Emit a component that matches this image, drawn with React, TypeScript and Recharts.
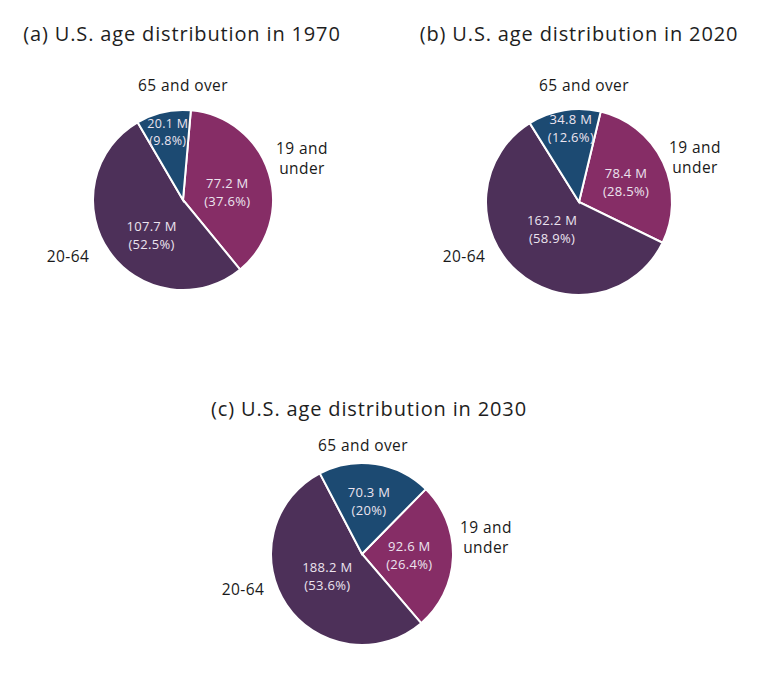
import React from 'react';
import { PieChart, Pie, Cell } from 'recharts';

const categories = ['19 and under', '20-64', '65 and over'];
const outerNames = [['19 and', 'under'], ['20-64'], ['65 and over']];
const colors = ['#862d66', '#4d3059', '#1c4a72'];

const values1970 = [77.2, 107.7, 20.1];
const pct1970 = ['37.6', '52.5', '9.8'];
const values2020 = [78.4, 162.2, 34.8];
const pct2020 = ['28.5', '58.9', '12.6'];
const values2030 = [92.6, 188.2, 70.3];
const pct2030 = ['26.4', '53.6', '20'];

const titles = [
  '(a) U.S. age distribution in 1970',
  '(b) U.S. age distribution in 2020',
  '(c) U.S. age distribution in 2030',
];

const build = (vals: number[], pcts: string[]) =>
  categories.map((c, i) => ({ name: c, value: vals[i], pct: pcts[i] }));

const FONT = '"Open Sans", "Noto Sans", sans-serif';
const RAD = Math.PI / 180;

type Layout = {
  cx: number;
  cy: number;
  r: number;
  offset: number;
  titleX: number;
  titleY: number;
  inner: { ratio: number; d: number; gap: number; fs: number }[];
  outer: { dx: number; dy: number }[];
};

const layouts: Layout[] = [
  {
    cx: 183, cy: 200, r: 90, offset: 5, titleX: 182, titleY: 33,
    inner: [{ ratio: 0.5, d: 7, gap: 9, fs: 13 }, { ratio: 0.52, d: -13, gap: 9, fs: 13 }, { ratio: 0.77, d: 0, gap: 8.5, fs: 12.5 }],
    outer: [{ dx: 119, dy: -52 }, { dx: -115, dy: 56 }, { dx: 0, dy: -115 }],
  },
  {
    cx: 579, cy: 202, r: 93, offset: 13.5, titleX: 579, titleY: 33,
    inner: [{ ratio: 0.55, d: 2, gap: 9, fs: 13 }, { ratio: 0.41, d: 3, gap: 9, fs: 13 }, { ratio: 0.8, d: 3, gap: 9, fs: 13 }],
    outer: [{ dx: 116, dy: -55 }, { dx: -115, dy: 54 }, { dx: 5, dy: -117 }],
  },
  {
    cx: 362, cy: 554, r: 91, offset: 44.5, titleX: 369, titleY: 408,
    inner: [{ ratio: 0.52, d: -1, gap: 9, fs: 13 }, { ratio: 0.45, d: 2, gap: 9, fs: 13 }, { ratio: 0.59, d: -1, gap: 9, fs: 13 }],
    outer: [{ dx: 124, dy: -27 }, { dx: -119, dy: 35 }, { dx: 1, dy: -109 }],
  },
];

const makeLabel = (lay: Layout) => (props: any) => {
  const { cx, cy, midAngle, outerRadius, index, value, payload } = props;
  const ccx = typeof cx === 'number' ? cx : lay.cx;
  const ccy = typeof cy === 'number' ? cy : lay.cy;
  const orad = typeof outerRadius === 'number' ? outerRadius : lay.r;
  const li = lay.inner[index];
  const ang = (midAngle - li.d) * RAD;
  const x = ccx + orad * li.ratio * Math.cos(ang);
  const y = ccy - orad * li.ratio * Math.sin(ang);
  const pct = payload?.pct ?? props.pct;
  const o = lay.outer[index];
  const lines = outerNames[index];
  return (
    <g>
      <text x={x} y={y - li.gap} textAnchor="middle" dominantBaseline="central" fill="#ece4ef" fontSize={li.fs} letterSpacing={0.3} fontFamily={FONT}>
        {`${value} M`}
      </text>
      <text x={x} y={y + li.gap} textAnchor="middle" dominantBaseline="central" fill="#ece4ef" fontSize={li.fs} letterSpacing={0.3} fontFamily={FONT}>
        {`(${pct}%)`}
      </text>
      {lines.map((ln, k) => (
        <text
          key={k}
          x={ccx + o.dx}
          y={ccy + o.dy + k * 20}
          textAnchor="middle"
          dominantBaseline="central"
          fill="#1a1a1a"
          fontSize={15.5}
          letterSpacing={0.4}
          fontFamily={FONT}
        >
          {ln}
        </text>
      ))}
    </g>
  );
};

const datasets = [build(values1970, pct1970), build(values2020, pct2020), build(values2030, pct2030)];

export default function App() {
  return (
    <div style={{ position: 'absolute', left: 0, top: 0, width: 768, height: 687, background: '#fff' }}>
      <PieChart width={768} height={687} margin={{ top: 0, right: 0, bottom: 0, left: 0 }}>
        {datasets.map((data, i) => {
          const lay = layouts[i];
          return (
            <Pie
              key={i}
              data={data}
              dataKey="value"
              nameKey="name"
              cx={lay.cx}
              cy={lay.cy}
              outerRadius={lay.r}
              startAngle={90 - lay.offset}
              endAngle={90 - lay.offset - 360}
              stroke="#ffffff"
              strokeWidth={2}
              isAnimationActive={false}
              labelLine={false}
              label={makeLabel(lay)}
            >
              {data.map((d, j) => (
                <Cell key={j} fill={colors[j]} />
              ))}
            </Pie>
          );
        })}
      </PieChart>
      <svg width={768} height={687} style={{ position: 'absolute', left: 0, top: 0, pointerEvents: 'none' }}>
        {titles.map((t, i) => (
          <text
            key={i}
            x={layouts[i].titleX}
            y={layouts[i].titleY}
            textAnchor="middle"
            dominantBaseline="central"
            fill="#1e1e1e"
            fontSize={20}
            letterSpacing={0.85}
            fontFamily={FONT}
          >
            {t}
          </text>
        ))}
      </svg>
    </div>
  );
}
